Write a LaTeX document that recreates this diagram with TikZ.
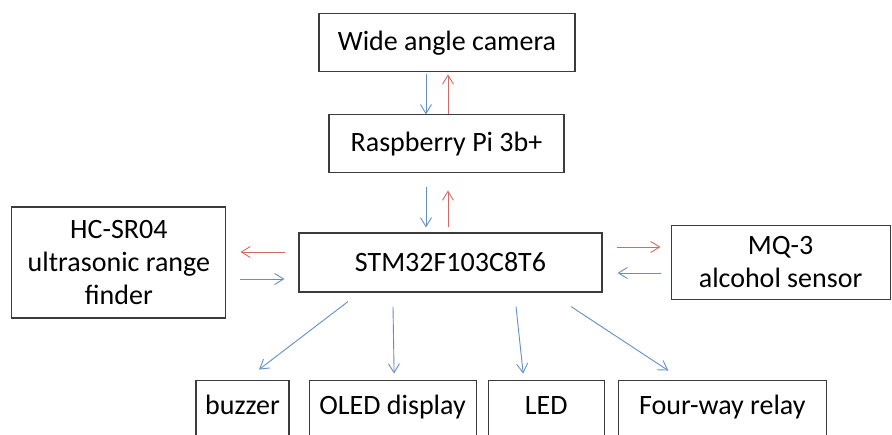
\documentclass[tikz,border=0pt]{standalone}
\usepackage{fontspec}
\setmainfont{Carlito}
\usepackage{xcolor}
\usetikzlibrary{arrows.meta,positioning}

\definecolor{linkblue}{RGB}{100,142,196}
\definecolor{linkred}{RGB}{204,108,104}
\definecolor{boxgray}{RGB}{60,60,60}

\begin{document}
\begin{tikzpicture}[
    font=\fontsize{28}{33}\selectfont,
    block/.style={rectangle, draw=boxgray, line width=1.1pt, inner sep=0pt, align=center, minimum height=58pt},
    unit/.style={block, minimum height=0pt, text height=34pt, text depth=44pt},
    tx/.style={line width=0.9pt, draw=linkblue, -{Straight Barb[length=9pt,width=11pt]}},
    rx/.style={tx, draw=linkred}
]
    \clip (0pt,0pt) rectangle (892pt,-434pt);

    \node[block, minimum width=303pt, minimum height=59pt] (stm) at (450.5pt,-262.5pt) {STM32F103C8T6};
    \node[block, minimum width=235pt, above=59pt of stm, xshift=-4pt] (rpi) {Raspberry Pi 3b+};
    \node[block, minimum width=256pt, above=42pt of rpi, xshift=0.5pt] (cam) {Wide angle camera};
    \node[block, minimum width=214pt, minimum height=111pt, left=72pt of stm] (hc) {HC-SR04\\ultrasonic range\\finder};
    \node[block, minimum width=219pt, minimum height=74pt, right=68pt of stm] (mq) {MQ-3\\alcohol sensor};

    \node[unit, minimum width=93pt, below=87pt of stm, xshift=-208pt] (buzzer) {buzzer};
    \node[unit, minimum width=167pt, right=19pt of buzzer] (oled) {OLED display};
    \node[unit, minimum width=116pt, right=11pt of oled] (led) {LED};
    \node[unit, minimum width=208pt, right=13pt of led] (relay) {Four-way relay};

    % camera and Raspberry Pi
    \draw[tx, shorten <=2pt] ([xshift=-21pt]cam.south) -- ([xshift=-21pt]cam.south |- rpi.north);
    \draw[rx, shorten >=2pt] ([xshift=1pt]cam.south |- rpi.north) -- ([xshift=1pt]cam.south);
    \draw[tx, shorten <=14pt, shorten >=5pt] ([xshift=-24.5pt]stm.north |- rpi.south) -- ([xshift=-24.5pt]stm.north);
    \draw[rx, shorten <=5pt, shorten >=17pt] ([xshift=-2.5pt]stm.north) -- ([xshift=-2.5pt]stm.north |- rpi.south);

    % sensors
    \draw[rx, shorten <=13pt, shorten >=14pt] ([yshift=10.5pt]stm.west) -- ([yshift=10.5pt]stm.west -| hc.east);
    \draw[tx, shorten <=14pt, shorten >=14pt] ([yshift=-16.5pt]stm.west -| hc.east) -- ([yshift=-16.5pt]stm.west);
    \draw[rx, shorten <=14pt, shorten >=10pt] ([yshift=15.5pt]stm.east) -- ([yshift=15.5pt]stm.east -| mq.west);
    \draw[tx, shorten <=10pt, shorten >=15pt] ([yshift=-10.5pt]stm.east -| mq.west) -- ([yshift=-10.5pt]stm.east);

    % outputs
    \draw[tx] ([shift={(-102.5pt,-9pt)}]stm.south) -- ([shift={(16.5pt,10pt)}]buzzer.north);
    \draw[tx] ([shift={(-57.5pt,-14pt)}]stm.south) -- ([shift={(1.5pt,6pt)}]oled.north);
    \draw[tx] ([shift={(65.5pt,-14pt)}]stm.south) -- ([shift={(-23pt,6pt)}]led.north);
    \draw[tx] ([shift={(120.5pt,-14pt)}]stm.south) -- ([shift={(-54pt,9pt)}]relay.north);
\end{tikzpicture}
\end{document}
